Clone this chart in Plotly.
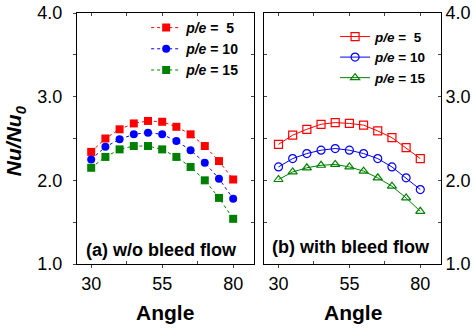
import plotly.graph_objects as go

angles = [30, 35, 40, 45, 50, 55, 60, 65, 70, 75, 80]

# (a) without bleed flow
a_pe5 = [2.34, 2.50, 2.61, 2.68, 2.71, 2.70, 2.64, 2.55, 2.41, 2.23, 2.01]
a_pe10 = [2.25, 2.40, 2.49, 2.55, 2.57, 2.55, 2.47, 2.36, 2.21, 2.02, 1.78]
a_pe15 = [2.15, 2.28, 2.37, 2.41, 2.41, 2.37, 2.28, 2.16, 2.00, 1.79, 1.54]

# (b) with bleed flow
b_pe5 = [2.43, 2.54, 2.61, 2.67, 2.69, 2.68, 2.66, 2.59, 2.51, 2.39, 2.26]
b_pe10 = [2.16, 2.26, 2.32, 2.36, 2.38, 2.36, 2.32, 2.26, 2.16, 2.03, 1.89]
b_pe15 = [2.01, 2.10, 2.15, 2.18, 2.19, 2.16, 2.11, 2.03, 1.93, 1.79, 1.63]

names = ["<b><i>p/e</i> =\u00a0\u00a05</b>", "<b><i>p/e</i> = 10</b>", "<b><i>p/e</i> = 15</b>"]
colors = ["#FF0000", "#0000FF", "#008000"]

FONT = "Liberation Sans, Arial, sans-serif"
fig = go.Figure()

for ys, nm, c, sym in zip([a_pe5, a_pe10, a_pe15], names, colors, ["square", "circle", "square"]):
    fig.add_trace(go.Scatter(
        x=angles, y=ys, name=nm, mode="lines+markers",
        line=dict(color=c, width=1, dash="3px,3px"),
        marker=dict(symbol=sym, size=8, color=c),
        xaxis="x", yaxis="y", legend="legend"))

for ys, nm, c, sym in zip([b_pe5, b_pe10, b_pe15], names, colors,
                          ["square-open", "circle-open", "triangle-up-open"]):
    fig.add_trace(go.Scatter(
        x=angles, y=ys, name=nm, mode="lines+markers",
        line=dict(color=c, width=1),
        marker=dict(symbol=sym, size=8, color=c, line=dict(width=1.2)),
        xaxis="x2", yaxis="y2", legend="legend2"))

# empty traces so that the mirror (overlay) axes get drawn
for xa, ya in [("x3", "y"), ("x", "y3"), ("x4", "y2"), ("x2", "y4")]:
    fig.add_trace(go.Scatter(x=[], y=[], xaxis=xa, yaxis=ya, showlegend=False,
                             hoverinfo="skip", mode="markers"))

L = 0.486
R = 0.5146
xr = [25, 87.3]
tickfont = dict(family=FONT, size=18, color="black")
common_x = dict(range=xr, showline=True, linecolor="black", linewidth=1,
                showgrid=False, zeroline=False, tickfont=tickfont)
common_y = dict(range=[1, 4], showline=True, linecolor="black", linewidth=1,
                showgrid=False, zeroline=False, tickfont=tickfont)
mirror_common = dict(ticks="inside", ticklen=3, showticklabels=False, showline=True,
                     linecolor="black", linewidth=1, showgrid=False, zeroline=False)

fig.update_layout(
    width=476, height=329,
    margin=dict(l=77, r=35, t=13, b=65, autoexpand=False),
    paper_bgcolor="white", plot_bgcolor="white",
    font=dict(family=FONT, color="black"),
    xaxis=dict(domain=[0, L], anchor="y", tickvals=[30, 55, 80], ticks="outside", ticklen=3,
               minor=dict(tickvals=[42.5, 67.5], ticks="inside", ticklen=3), **common_x),
    yaxis=dict(domain=[0, 1], anchor="x", tickvals=[1, 2, 3, 4], tickformat=".1f",
               ticks="outside", ticklen=3, ticklabelstandoff=7,
               minor=dict(dtick=0.5, ticks="outside", ticklen=3), **common_y),
    xaxis2=dict(domain=[R, 1], anchor="y2", tickvals=[30, 55, 80], ticks="outside", ticklen=3,
                minor=dict(tickvals=[42.5, 67.5], ticks="inside", ticklen=3), **common_x),
    yaxis2=dict(domain=[0, 1], anchor="x2", side="right", tickvals=[1, 2, 3, 4], tickformat=".1f",
                ticks="inside", ticklen=3, minor=dict(dtick=0.5, ticks="inside", ticklen=3),
                **common_y),
    xaxis3=dict(overlaying="x", anchor="y", side="top", range=xr,
                tickvals=[30, 42.5, 55, 67.5, 80], **mirror_common),
    yaxis3=dict(overlaying="y", anchor="x", side="right", range=[1, 4], dtick=0.5, **mirror_common),
    xaxis4=dict(overlaying="x2", anchor="y2", side="top", range=xr,
                tickvals=[30, 42.5, 55, 67.5, 80], **mirror_common),
    yaxis4=dict(overlaying="y2", anchor="x2", side="left", range=[1, 4], dtick=0.5, **mirror_common),
    legend=dict(x=0.19, y=1.004, xanchor="left", yanchor="top", bgcolor="rgba(0,0,0,0)",
                font=dict(family=FONT, size=14, color="black"), itemwidth=30,
                tracegroupgap=0),
    legend2=dict(x=0.709, y=0.967, xanchor="left", yanchor="top", bgcolor="rgba(0,0,0,0)",
                 font=dict(family=FONT, size=13.5, color="black"), itemwidth=30,
                 tracegroupgap=0),
    showlegend=True,
)

ann_font = dict(family=FONT, size=18, color="black")
fig.add_annotation(text="<b>(a) w/o bleed flow</b>", xref="paper", yref="paper",
                   x=0.232, y=0.054, xanchor="center", yanchor="middle", showarrow=False, font=ann_font)
fig.add_annotation(text="<b>(b) with bleed flow</b>", xref="paper", yref="paper",
                   x=0.753, y=0.066, xanchor="center", yanchor="middle", showarrow=False, font=ann_font)
fig.add_annotation(text="<b>Angle</b>", xref="paper", yref="paper",
                   x=0.243, y=-0.194, xanchor="center", yanchor="middle", showarrow=False,
                   font=dict(family=FONT, size=21, color="black"))
fig.add_annotation(text="<b>Angle</b>", xref="paper", yref="paper",
                   x=0.757, y=-0.194, xanchor="center", yanchor="middle", showarrow=False,
                   font=dict(family=FONT, size=21, color="black"))
fig.add_annotation(text="<b><i>Nu/Nu<sub>0</sub></i></b>", xref="paper", yref="paper",
                   x=-0.170, y=0.49, xanchor="center", yanchor="middle", showarrow=False,
                   textangle=-90, font=dict(family=FONT, size=21, color="black"))

fig.write_html("out.html", config={"displayModeBar": False},
               post_script="document.body.style.margin='0';document.body.style.overflow='hidden';")
